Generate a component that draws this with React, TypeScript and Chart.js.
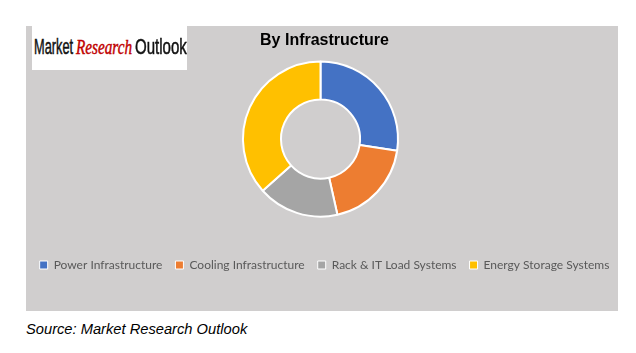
import React, { useEffect, useLayoutEffect, useRef } from "react";
import { Chart, registerables } from "chart.js";

Chart.register(...registerables);

const categories = [
  "Power Infrastructure",
  "Cooling Infrastructure",
  "Rack & IT Load Systems",
  "Energy Storage Systems",
];
const shares = [27.4, 19.1, 16.9, 36.6];
const colors = ["#4472c4", "#ed7d31", "#a5a5a5", "#ffc000"];
const chartTitle = "By Infrastructure";
const sourceText = "Source: Market Research Outlook";

const logoWords = [
  { text: "Market", left: 34, width: 39, color: "#111111", italic: false, family: "'Liberation Sans', Arial, sans-serif" },
  { text: "Research", left: 76, width: 56, color: "#c00000", italic: true, family: "'Liberation Serif', 'DejaVu Serif', serif" },
  { text: "Outlook", left: 135, width: 52, color: "#111111", italic: false, family: "'Liberation Sans', Arial, sans-serif" },
];

function LogoWord({ w }: { w: (typeof logoWords)[number] }) {
  const ref = useRef<HTMLSpanElement | null>(null);
  useLayoutEffect(() => {
    const el = ref.current;
    if (!el) return;
    const natural = el.offsetWidth;
    if (natural > 0) el.style.transform = `scaleX(${w.width / natural})`;
  }, [w]);
  return (
    <span
      ref={ref}
      style={{
        position: "absolute",
        left: w.left,
        top: 36,
        display: "inline-block",
        whiteSpace: "nowrap",
        fontFamily: w.family,
        fontStyle: w.italic ? "italic" : "normal",
        fontSize: 22,
        lineHeight: "22px",
        color: w.color,
        WebkitTextStroke: `0.5px ${w.color}`,
        transformOrigin: "left top",
      }}
    >
      {w.text}
    </span>
  );
}

const shiftPlugin = {
  id: "shiftBoxes",
  afterLayout(chart: any) {
    const dx = 4;
    const boxes = [chart.legend, chart.titleBlock];
    for (const b of boxes) {
      if (b) {
        b.left += dx;
        b.right += dx;
      }
    }
  },
};

export default function App() {
  const canvasRef = useRef<HTMLCanvasElement | null>(null);

  useEffect(() => {
    document.body.style.margin = "0";
    const canvas = canvasRef.current;
    if (!canvas) return;
    const baseGen = (Chart as any).overrides.doughnut.plugins.legend.labels.generateLabels;
    const chart = new Chart(canvas, {
      type: "doughnut",
      data: {
        labels: categories,
        datasets: [
          {
            data: shares,
            backgroundColor: colors,
            borderColor: "#ffffff",
            borderWidth: 2,
          },
        ],
      },
      options: {
        animation: false,
        responsive: false,
        devicePixelRatio: 1,
        radius: 77.5,
        cutout: "51%",
        layout: { padding: { top: 0, bottom: 30, left: 12, right: 7 } },
        plugins: {
          tooltip: { enabled: false },
          title: {
            display: true,
            text: chartTitle,
            color: "#000000",
            font: { family: "'Liberation Sans', Arial, sans-serif", size: 16, weight: "bold", lineHeight: 1.2 },
            padding: { top: 5, bottom: 10 },
          },
          subtitle: {
            display: true,
            text: "",
            position: "bottom",
            weight: 500,
            font: { size: 1, lineHeight: 1 },
            padding: { top: 27, bottom: 0 },
          } as any,
          legend: {
            position: "bottom",
            labels: {
              color: "#595959",
              font: { family: "Lato, 'Open Sans', sans-serif", size: 12 },
              boxWidth: 8,
              boxHeight: 8,
              padding: 13,
              generateLabels: (c: any) =>
                baseGen(c).map((it: any) => ({ ...it, lineWidth: 1 })),
            },
          },
        },
      } as any,
      plugins: [shiftPlugin],
    });
    return () => chart.destroy();
  }, []);

  return (
    <div
      style={{
        position: "fixed",
        left: 0,
        top: 0,
        width: 636,
        height: 353,
        background: "#ffffff",
        overflow: "hidden",
      }}
    >
      <div
        style={{
          position: "absolute",
          left: 26,
          top: 26,
          width: 592,
          height: 285,
          background: "#d0cece",
        }}
      />
      <canvas
        ref={canvasRef}
        width={636}
        height={285}
        style={{ position: "absolute", left: 0, top: 26, display: "block", width: 636, height: 285 }}
      />
      <div
        style={{
          position: "absolute",
          left: 32,
          top: 26,
          width: 155,
          height: 44,
          background: "#ffffff",
        }}
      />
      {logoWords.map((w) => (
        <LogoWord key={w.text} w={w} />
      ))}
      <div
        style={{
          position: "absolute",
          left: 26,
          top: 320,
          fontFamily: "'Liberation Sans', Arial, sans-serif",
          fontStyle: "italic",
          fontSize: 14.7,
          lineHeight: "18px",
          color: "#000000",
          whiteSpace: "nowrap",
        }}
      >
        {sourceText}
      </div>
    </div>
  );
}
